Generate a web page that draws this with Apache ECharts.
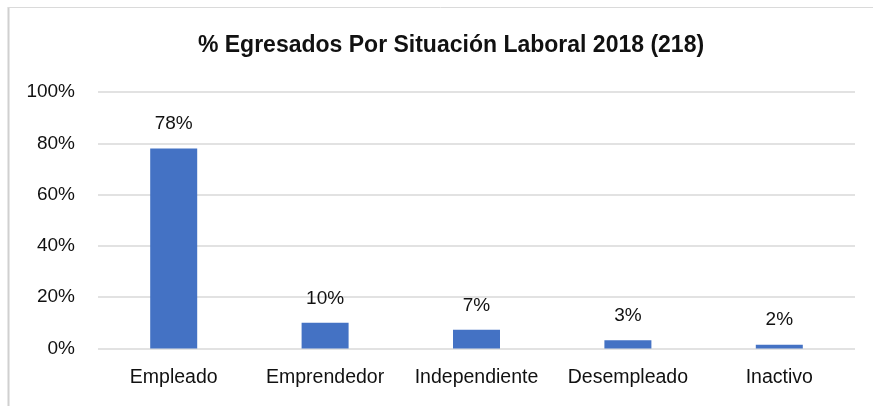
<!DOCTYPE html>
<html>
<head>
<meta charset="utf-8">
<script src="https://cdn.jsdelivr.net/npm/echarts@6/dist/echarts.min.js"></script>
<style>
html,body{margin:0;padding:0;background:#fff;}
#chart{width:873px;height:406px;}
</style>
</head>
<body>
<div id="chart"></div>
<script>
const titleText = '% Egresados Por Situación Laboral 2018 (218)';
const categories = ['Empleado', 'Emprendedor', 'Independiente', 'Desempleado', 'Inactivo'];
const values = [78, 10, 7.3, 3.2, 1.5];
const yTicks = [0, 20, 40, 60, 80, 100];

const FONT = '"Liberation Sans Narrow", "Arial Narrow", "Liberation Sans", Arial, sans-serif';
const chart = echarts.init(document.getElementById('chart'), null, {renderer: 'canvas'});
chart.setOption({
  animation: false,
  backgroundColor: '#ffffff',
  title: {
    text: titleText,
    left: 446,
    textAlign: 'center',
    top: 29,
    textStyle: {fontFamily: FONT, fontWeight: 'bold', fontSize: 23, color: '#111'}
  },
  graphic: [
    {type: 'line', shape: {x1: 8.5, y1: 7, x2: 8.5, y2: 406}, style: {stroke: '#d0d0d0', lineWidth: 2}},
    {type: 'line', shape: {x1: 8, y1: 7.5, x2: 873, y2: 7.5}, style: {stroke: '#dadada', lineWidth: 1}}
  ],
  grid: {left: 98, right: 18, top: 92, bottom: 57.5, containLabel: false},
  xAxis: {
    type: 'category',
    data: categories,
    axisLine: {show: false},
    axisTick: {show: false},
    axisLabel: {fontFamily: FONT, fontSize: 19.5, color: '#111', margin: 19, interval: 0}
  },
  yAxis: {
    type: 'value',
    min: yTicks[0],
    max: yTicks[yTicks.length - 1],
    interval: 20,
    axisLine: {show: false},
    axisTick: {show: false},
    splitLine: {lineStyle: {color: '#d9d9d9', width: 1.5}},
    axisLabel: {fontFamily: FONT, fontSize: 19, color: '#111', margin: 23, formatter: v => v + '%'}
  },
  series: [{
    type: 'bar',
    data: values,
    barWidth: 47,
    itemStyle: {color: '#4472C4'},
    label: {
      show: true,
      position: 'top',
      distance: 15,
      fontFamily: FONT,
      fontSize: 19,
      color: '#111',
      formatter: p => Math.round(p.value) + '%'
    }
  }]
});
</script>
</body>
</html>
